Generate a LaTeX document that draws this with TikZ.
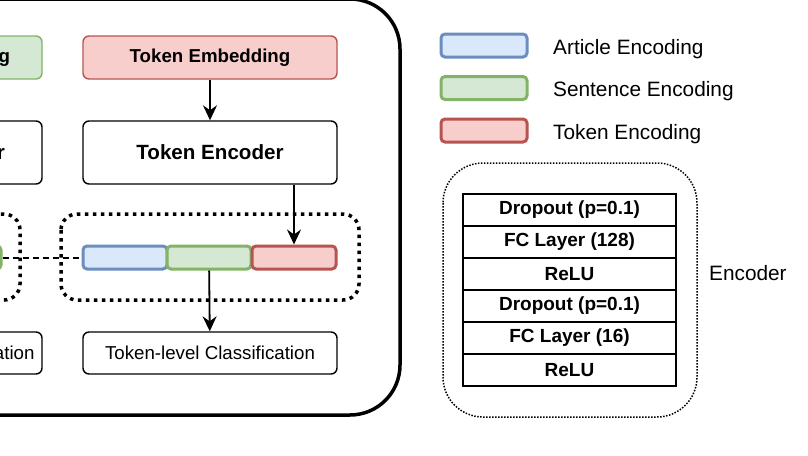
\documentclass[tikz,border=0pt]{standalone}
\usepackage{fontspec}
\setmainfont{Liberation Sans}
\usepackage{tikz}
\usetikzlibrary{arrows.meta}

\definecolor{bluefill}{HTML}{DAE8FC}
\definecolor{bluedraw}{HTML}{6C8EBF}
\definecolor{greenfill}{HTML}{D5E8D4}
\definecolor{greendraw}{HTML}{82B366}
\definecolor{redfill}{HTML}{F8CECC}
\definecolor{reddraw}{HTML}{B85450}

\begin{document}
\begin{tikzpicture}[x=1pt, y=-1pt,
    box/.style={draw, line width=1.4pt, rounded corners=6pt, minimum width=254pt, inner sep=0pt},
    bar/.style={draw, line width=3pt, rounded corners=4pt, minimum width=84pt, minimum height=23pt, inner sep=0pt},
    layer/.style={draw, line width=1.8pt, minimum width=213pt, minimum height=32pt, inner sep=0pt,
        font=\fontsize{19}{22}\selectfont\bfseries},
    arr/.style={-{Stealth[length=15pt, width=14pt, inset=5pt]}, line width=1.8pt},
    thickdots/.style={line width=3.5pt, dash pattern=on 3.5pt off 4.5pt, rounded corners=16pt},
    bigfont/.style={font=\fontsize{20.6}{24}\selectfont\bfseries},
    midfont/.style={font=\fontsize{18.7}{22}\selectfont\bfseries},
    legfont/.style={font=\fontsize{20.8}{24}\selectfont}]

\useasboundingbox (0,0) rectangle (808,455);
\clip (0,0) rectangle (808,455);

% outer frame
\draw[line width=3.5pt, rounded corners=50pt] (-300,-1) rectangle (400,415);

% sentence column (cut at the left edge)
\node[box, fill=greenfill, draw=greendraw, minimum height=43pt, midfont] (sentemb) at (-85,57.5) {Sentence Embedding};
\node[box, minimum height=63pt, bigfont] (sentenc) at (-85,152.5) {Sentence Encoder};
\node[box, minimum height=42pt, font=\fontsize{18.7}{22}\selectfont] (sentcls) at (-85,353) {Sentence-level Classification};
\node[bar, fill=bluefill, draw=bluedraw] (sa) at (-125,257.5) {};
\node[bar, fill=greenfill, draw=greendraw] (ss) at (-41,257.5) {};
\draw[thickdots] (-189,214) rectangle (20,300);

% token column
\node[box, fill=redfill, draw=reddraw, minimum height=43pt, midfont] (tokemb) at (210,57.5) {Token Embedding};
\node[box, minimum height=63pt, bigfont] (tokenc) at (210,152.5) {Token Encoder};
\node[box, minimum height=42pt, font=\fontsize{18.7}{22}\selectfont] (tokcls) at (210,353) {Token-level Classification};
\node[bar, fill=bluefill, draw=bluedraw] (ta) at (125,257.5) {};
\node[bar, fill=greenfill, draw=greendraw] (ts) at (209,257.5) {};
\node[bar, fill=redfill, draw=reddraw] (tt) at (294,257.5) {};
\draw[thickdots] (61,214) rectangle (359,300);

\draw[arr] (tokemb) -- (tokenc);
\draw[arr] (tokenc.south -| tt) -- (tt);
\draw[arr] (ts) -- (tokcls);
\draw[line width=2pt, dash pattern=on 6pt off 4pt] (ss.east) -- (ta.west);

% legend
\foreach \y/\c/\t in {45.5/blue/Article Encoding, 88/green/Sentence Encoding, 130.5/red/Token Encoding} {
    \node[bar, minimum width=86pt, fill=\c fill, draw=\c draw] (leg\c) at (484,\y) {};
    \node[anchor=west, legfont, inner sep=0pt] (legtext\c) at (553,\y+3.5) {\t};
}

% encoder block
\draw[line width=1.5pt, dash pattern=on 1.5pt off 1.5pt, rounded corners=40pt] (443,163) rectangle (697,417);
\foreach \i/\t in {1/{Dropout (p=0.1)}, 2/{FC Layer (128)}, 3/{ReLU}, 4/{Dropout (p=0.1)}, 5/{FC Layer (16)}, 6/{ReLU}}
    \node[layer] (layer\i) at (569.5,178+32*\i) {\t};
\node[anchor=west, legfont, inner sep=0pt] (enclabel) at (709,273) {Encoder};

\end{tikzpicture}
\end{document}
